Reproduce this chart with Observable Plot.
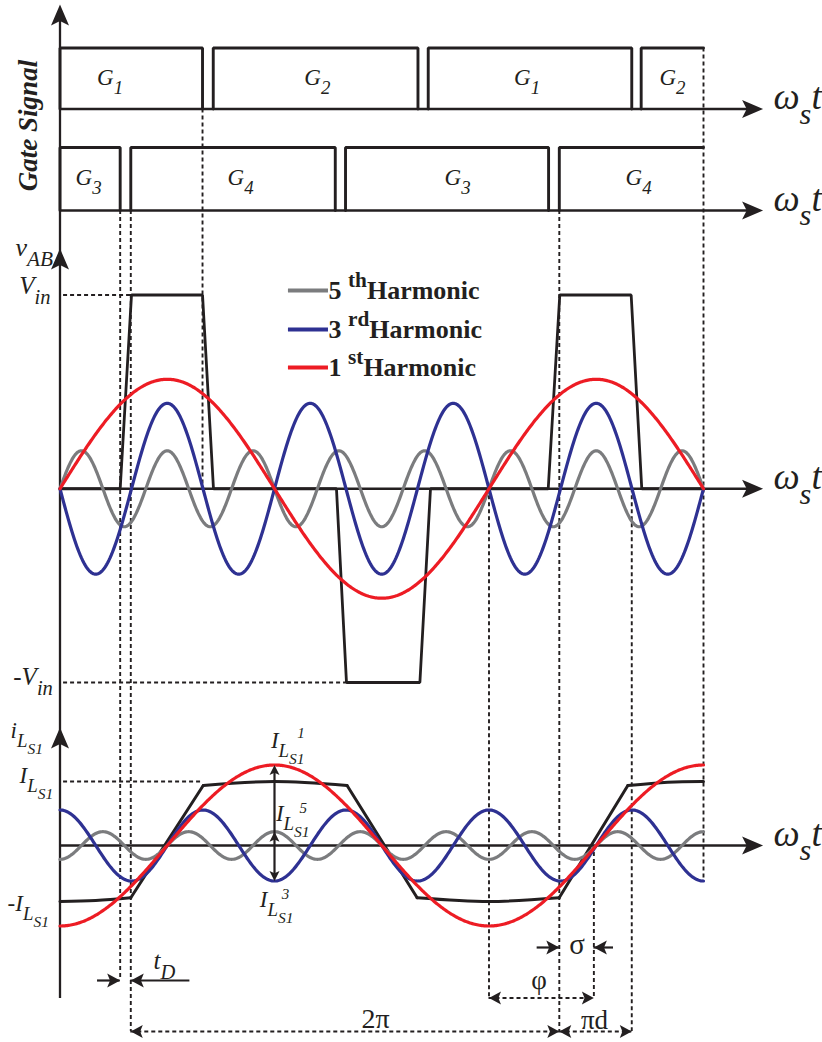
<!DOCTYPE html>
<html>
<head>
<meta charset="utf-8">
<script src="https://cdn.jsdelivr.net/npm/d3@7"></script>
<script src="https://cdn.jsdelivr.net/npm/@observablehq/plot@0.6"></script>
<style>
  html, body { margin: 0; padding: 0; background: #fff; }
  #chart { width: 822px; height: 1042px; }
  #chart svg text { font-family: "Liberation Serif", "DejaVu Serif", serif; }
</style>
</head>
<body>
<div id="chart"></div>
<script>
// Angles are degrees of ωst; 360° is one switching period.

// Gate signals, leg A (G1/G2) and leg B (G3/G4): on/off instants
const legANames = ["G_{1}", "G_{2}", "G_{1}", "G_{2}"];
const legAOn    = [0, 128.6, 309, 487.7];
const legAOff   = [119.6, 300.4, 479.8, 540];
const legBNames = ["G_{3}", "G_{4}", "G_{3}", "G_{4}"];
const legBOn    = [0, 59.4, 239.6, 419];
const legBOff   = [50.5, 231, 410, 540];

// Bridge voltage v_AB (per unit of Vin)
const vabAngle = [0, 50.5, 60, 119.6, 128.8, 232, 240.4, 302, 310.9, 409.7, 419.4, 479.3, 488.2, 540];
const vabLevel = [0, 0, 1, 1, 0, 0, -1, -1, 0, 0, 1, 1, 0, 0];

// Harmonic components
const harmonicOrder = [5, 3, 1];
const harmonicLabel = ["5 ^{th}Harmonic", "3 ^{rd}Harmonic", "1 ^{st}Harmonic"];
const vabAmp = [0.196, -0.441, 0.565];   // coefficient of sin(nθ), per unit of Vin
const iLsAmp = [-0.216, 0.555, -1.258];  // coefficient of cos(nθ), per unit of I_Ls1

// Inductor current i_Ls1 (per unit of I_Ls1): ramps while v_AB = ±Vin, slow droop otherwise
const iLsAngle = [0, 30, 59.4, 120.2, 180, 240.9, 299.7, 360, 418.9, 476.5, 510, 540];
const iLsLevel = [-0.875, -0.859, -0.817, 0.9375, 1.0, 0.9375, -0.817, -0.875, -0.817, 0.9375, 0.99, 1.0];
const iLsPieces = [[0, 1, 2], [2, 3], [3, 4, 5], [5, 6], [6, 7, 8], [8, 9], [9, 10, 11]];

// Marked angles
const phiStart = 360;      // current minimum
const currentZero = 448;   // current zero crossing

// ---------------- layout ----------------
const ink = "#231f20";
const colors = {5: "#7b7c7e", 3: "#2e3192", 1: "#ed1c24"};
const serif = "Liberation Serif, DejaVu Serif, serif";

const yGateA = d3.scaleLinear([0, 1], [108.5, 47.5]);
const yGateB = d3.scaleLinear([0, 1], [210, 147]);
const yV = d3.scaleLinear([-1, 1], [682, 294.5]);
const yI = d3.scaleLinear([0, 1], [845, 781]);
const dimY = {sigma: 947, tD: 980, phi: 997.5, period: 1031};
const axisEnd = 590;   // angle of the horizontal arrow tips
const yAxisTop = 4, yAxisBottom = 998;

const gateLabelXA = [42, 216, 392, 514];
const gateLabelXB = [24, 151.5, 333.6, 485.5];

// ---------------- derived series ----------------
function pulseTrain(on, off, leg) {
  return on.flatMap((a, i) => {
    const pts = [{a, lv: 0}, {a, lv: 1}, {a: off[i], lv: 1}];
    if (off[i] < 540) pts.push({a: off[i], lv: 0});
    return pts.map(p => ({...p, id: leg + i}));
  });
}
const gateA = pulseTrain(legAOn, legAOff, "A");
const gateB = pulseTrain(legBOn, legBOff, "B");

const vab = vabAngle.map((a, i) => ({a, v: vabLevel[i]}));
const iLs = iLsPieces.flatMap((idx, k) => idx.map(i => ({a: iLsAngle[i], v: iLsLevel[i], piece: k})));

const rad = Math.PI / 180;
const thetas = d3.range(0, 540.01, 1);
const vabHarm = harmonicOrder.flatMap((n, k) =>
  thetas.map(a => ({n, a, v: vabAmp[k] * Math.sin(n * a * rad)})));
const iLsHarm = harmonicOrder.flatMap((n, k) =>
  thetas.map(a => ({n, a, v: iLsAmp[k] * Math.cos(n * a * rad)})));

// dashed projection lines
const guides = [
  {a: legBOff[0], y1: yGateB(0), y2: dimY.tD},
  {a: legBOn[1], y1: yGateB(0), y2: dimY.period},
  {a: legAOff[0], y1: yGateA(0), y2: yV(0)},
  {a: phiStart, y1: yV(0), y2: dimY.phi},
  {a: legBOn[3], y1: yGateB(0), y2: dimY.period},
  {a: currentZero, y1: yI(0), y2: dimY.phi},
  {a: legAOff[2], y1: yV(0), y2: dimY.period},
  {a: 540, y1: yGateA(1), y2: yI(-iLsAmp[1])}
];
const levelLines = [
  {a1: 3, a2: vabAngle[2], y: yV(1)},
  {a1: 3, a2: vabAngle[6], y: yV(-1)},
  {a1: 3, a2: iLsAngle[3], y: yI(1)}
];
const dimLines = [
  {a1: phiStart, a2: currentZero, y: dimY.phi},
  {a1: legBOn[1], a2: legBOn[3], y: dimY.period},
  {a1: legBOn[3], a2: legAOff[2], y: dimY.period}
];
const leaderLines = [
  {a1: 31.5, a2: legBOff[0], y: dimY.tD},
  {a1: legBOn[1], a2: 109, y: dimY.tD},
  {a1: 400.4, a2: legBOn[3], y: dimY.sigma},
  {a1: currentZero, a2: 464.5, y: dimY.sigma}
];
const axisLevels = [yGateA(0), yGateB(0), yV(0), yI(0)];

// arrowheads (rotation: degrees clockwise from up)
const axisHeads = [
  {a: 0, y: yAxisTop, r: 0}, {a: 0, y: 248, r: 0}, {a: 0, y: 727, r: 0},
  ...axisLevels.map(y => ({a: axisEnd, y, r: 90}))
];
const leaderHeads = [
  {a: legBOff[0], y: dimY.tD, r: 90}, {a: legBOn[1], y: dimY.tD, r: -90},
  {a: legBOn[3], y: dimY.sigma, r: 90}, {a: currentZero, y: dimY.sigma, r: -90}
];
const dimHeads = [
  {a: phiStart, y: dimY.phi, r: -90}, {a: currentZero, y: dimY.phi, r: 90},
  {a: legBOn[1], y: dimY.period, r: -90}, {a: legBOn[3], y: dimY.period, r: 90},
  {a: legBOn[3], y: dimY.period, r: -90}, {a: legAOff[2], y: dimY.period, r: 90}
];
const ampHeads = [
  {a: 180, y: yI(-iLsAmp[2]), r: 0},
  {a: 180, y: yI(-iLsAmp[0]), r: 0},
  {a: 180, y: yI(-iLsAmp[1]), r: 180}
];

const stealth = {
  draw(context, l, r) {
    context.moveTo(0, -l);
    context.lineTo(r, 0);
    context.lineTo(0, -l * 0.22);
    context.lineTo(-r, 0);
    context.closePath();
  }
};
const heads = (data, length, r) => Plot.vector(data, {
  x: "a", y: "y", rotate: "r", length, r, shape: stealth, anchor: "end",
  fill: ink, stroke: "none"
});

// text
const gateLabels = [
  ...legANames.map((t, i) => ({a: gateLabelXA[i], y: 84, t})),
  ...legBNames.map((t, i) => ({a: gateLabelXB[i], y: 184.5, t}))
];
const mathStart = [
  {a: -41.5, y: 737, t: "i_{L_{S1}}"},
  {a: -34, y: 782, t: "I_{L_{S1}}"},
  {a: -44, y: 910, t: "-I_{L_{S1}}"},
  {a: 177, y: 747, t: "I_{L_{S1}}"},
  {a: 181.2, y: 820, t: "I_{L_{S1}}"},
  {a: 167.7, y: 906, t: "I_{L_{S1}}"}
];
const mathEnd = [
  {a: -8, y: 293, t: "V_{in}"},
  {a: -6, y: 684, t: "-V_{in}"}
];
const lowStart = [
  {a: -37.4, y: 255, t: "v_{AB}", s: 26},
  {a: 78.5, y: 968, t: "t_{D}", s: 25}
];
const orderMarks = [
  {a: 199, y: 737, t: "1"},
  {a: 201, y: 812, t: "5"},
  {a: 186, y: 898, t: "3"}
];
const omegaLabels = axisLevels.map(y => ({a: 598.7, y, t: "ω_{s}t"}));
const symbols = [
  {a: 264.8, y: 1027, t: "2π", s: 28},
  {a: 448.5, y: 1028, t: "πd", s: 27},
  {a: 433.8, y: 953, t: "σ", s: 29},
  {a: 402, y: 988, t: "φ", s: 27}
];
const legendRows = harmonicOrder.map((n, k) => ({n, t: harmonicLabel[k], y: [290, 329, 367][k]}));

const txt = (data, o) => Plot.text(data, {
  x: "a", y: "y", text: "t", lineAnchor: "bottom", fontFamily: serif, fill: ink, ...o
});

const dash = {stroke: ink, strokeWidth: 1.9, strokeDasharray: "4,3"};

const chart = Plot.plot({
  width: 822,
  height: 1042,
  margin: 0,
  style: {fontFamily: serif, background: "#fff"},
  x: {domain: [0, 540], range: [59.5, 703], axis: null},
  y: {type: "identity", axis: null},
  marks: [
    // projection and level lines
    Plot.ruleX(guides, {x: "a", y1: "y1", y2: "y2", ...dash}),
    Plot.ruleY(levelLines, {x1: "a1", x2: "a2", y: "y", ...dash}),
    Plot.ruleY(dimLines, {x1: "a1", x2: "a2", y: "y", ...dash}),
    Plot.ruleY(leaderLines, {x1: "a1", x2: "a2", y: "y", stroke: ink, strokeWidth: 2.2}),

    // axes
    Plot.ruleX([0], {x: d => d, y1: yAxisBottom, y2: yAxisTop + 10, stroke: ink, strokeWidth: 2.3}),
    Plot.ruleY(axisLevels, {x1: 0, x2: axisEnd - 8, y: d => d, stroke: ink, strokeWidth: 2.3}),

    // gate signals
    Plot.line(gateA, {x: "a", y: d => yGateA(d.lv), z: "id", stroke: ink, strokeWidth: 2.9, strokeLinejoin: "miter"}),
    Plot.line(gateB, {x: "a", y: d => yGateB(d.lv), z: "id", stroke: ink, strokeWidth: 2.9, strokeLinejoin: "miter"}),

    // v_AB and its harmonics
    Plot.line(vab, {x: "a", y: d => yV(d.v), stroke: ink, strokeWidth: 2.8, strokeLinejoin: "miter"}),
    Plot.line(vabHarm, {x: "a", y: d => yV(d.v), z: "n", stroke: d => colors[d.n], strokeWidth: 3.2}),

    // i_Ls1 and its harmonics
    Plot.line(iLs, {x: "a", y: d => yI(d.v), z: "piece", curve: "natural", stroke: ink, strokeWidth: 3}),
    Plot.line(iLsHarm, {x: "a", y: d => yI(d.v), z: "n", stroke: d => colors[d.n], strokeWidth: 3.2}),

    // amplitude markers
    Plot.ruleX([180], {x: d => d, y1: yI(-iLsAmp[2]) + 4, y2: yI(-iLsAmp[1]) - 4, stroke: ink, strokeWidth: 2.2}),

    // legend
    Plot.ruleY(legendRows, {x1: 191.7, x2: 225.3, y: "y", stroke: d => colors[d.n], strokeWidth: 4}),
    Plot.text(legendRows, {x: 225.3, y: d => d.y + 8, text: "t", textAnchor: "start", lineAnchor: "bottom",
      fontFamily: serif, fontWeight: "bold", fontSize: 26, fill: ink, ariaLabel: "legend"}),

    // arrowheads
    heads(axisHeads, 21, 9),
    heads(leaderHeads, 13, 7),
    heads(dimHeads, 12, 6.5),
    heads(ampHeads, 10, 5),

    // labels
    Plot.text(["Gate Signal"], {x: -18.9, y: 125, text: d => d, rotate: -90, textAnchor: "middle", lineAnchor: "bottom",
      fontFamily: serif, fontWeight: "bold", fontStyle: "italic", fontSize: 27, fill: ink}),
    txt(gateLabels, {textAnchor: "middle", fontStyle: "italic", fontSize: 23, ariaLabel: "gate"}),
    txt(mathStart, {textAnchor: "start", fontStyle: "italic", fontSize: 23, ariaLabel: "math"}),
    txt(mathEnd, {textAnchor: "end", fontStyle: "italic", fontSize: 25, ariaLabel: "vin"}),
    txt(lowStart, {textAnchor: "start", fontStyle: "italic", fontSize: "s", ariaLabel: "low"}),
    txt(orderMarks, {textAnchor: "start", fontStyle: "italic", fontSize: 15}),
    txt(omegaLabels, {textAnchor: "start", fontStyle: "italic", fontSize: 37, ariaLabel: "omega"}),
    txt(symbols, {textAnchor: "middle", fontSize: "s"})
  ]
});

document.getElementById("chart").appendChild(chart);

// Turn _{…} and ^{…} markup into subscript / superscript tspans.
const richStyles = {
  math:   {scale: 0.82, down: 0.4, up: 0.45},
  vin:    {scale: 0.76, down: 0.4, up: 0.45},
  gate:   {scale: 0.72, down: 0.42, up: 0.45},
  low:    {scale: 0.72, down: 0.28, up: 0.45},
  omega:  {scale: 0.6,  down: 0.25, up: 0.45},
  legend: {scale: 0.85, down: 0.3,  up: 0.45}
};
function richText(svg) {
  for (const el of svg.querySelectorAll("text")) {
    const src = el.textContent;
    if (!/[_^]\{/.test(src)) continue;
    const group = el.closest("g[aria-label]");
    const cfg = richStyles[group && group.getAttribute("aria-label")] || richStyles.math;
    const base = parseFloat(getComputedStyle(el).fontSize);
    const stack = [{size: base, shift: 0}];
    const runs = [];
    let buf = "";
    const flush = () => {
      if (!buf) return;
      const s = stack[stack.length - 1];
      runs.push({text: buf, size: s.size, shift: s.shift});
      buf = "";
    };
    for (let i = 0; i < src.length; i++) {
      const c = src[i];
      if ((c === "_" || c === "^") && src[i + 1] === "{") {
        flush();
        const s = stack[stack.length - 1];
        stack.push({size: s.size * cfg.scale, shift: s.shift + (c === "_" ? s.size * cfg.down : -s.size * cfg.up)});
        i++;
      } else if (c === "}") {
        flush();
        stack.pop();
      } else {
        buf += c;
      }
    }
    flush();
    el.textContent = "";
    let prev = 0;
    for (const r of runs) {
      const t = document.createElementNS("http://www.w3.org/2000/svg", "tspan");
      t.setAttribute("font-size", r.size.toFixed(2));
      if (r.shift !== prev) t.setAttribute("dy", (r.shift - prev).toFixed(2));
      prev = r.shift;
      t.textContent = r.text;
      el.appendChild(t);
    }
  }
}
richText(chart);
</script>
</body>
</html>
